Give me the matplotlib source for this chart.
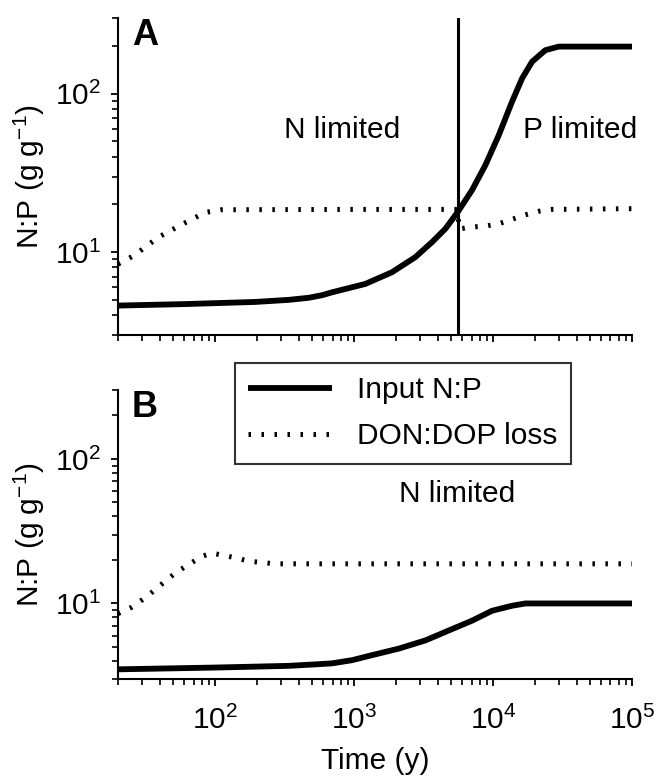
import numpy as np
import matplotlib
matplotlib.use("Agg")
import matplotlib.pyplot as plt
from matplotlib.ticker import LogLocator, NullFormatter

plt.rcParams['font.family'] = ['Liberation Sans', 'DejaVu Sans']
plt.rcParams['mathtext.fontset'] = 'custom'
plt.rcParams['mathtext.rm'] = 'Liberation Sans'
plt.rcParams['mathtext.it'] = 'Liberation Sans:italic'
plt.rcParams['mathtext.bf'] = 'Liberation Sans:bold'

# Painel A - entrada N:P e perda DON:DOP
tA_input = [20, 60, 195, 340, 470, 590, 695, 1205, 1876, 2760, 3640, 4540, 5570,
            7060, 8810, 11000, 13700, 16200, 19100, 23800, 29700, 100000]
A_input = [4.6, 4.7, 4.85, 5.0, 5.15, 5.35, 5.58, 6.3, 7.47, 9.3, 11.57, 14.04, 17.9,
           24.6, 35.4, 54.7, 89, 125, 159, 188, 198, 198]
tA_don = [20, 26, 39, 58, 85, 110, 1000, 5550, 5700, 7060, 8800, 11000, 13700,
          17100, 21300, 26500, 100000]
A_don = [8.4, 9.5, 12.4, 15.0, 17.8, 18.5, 18.6, 18.6, 14.0, 14.4, 14.6, 15.1, 16.1,
         17.2, 18.1, 18.6, 18.8]
t_switch = 5570   # passagem de limitacao por N para P

# Painel B
tB_input = [20, 100, 340, 560, 695, 968, 1350, 2100, 3260, 4800, 7060, 9840, 13700,
            17100, 100000]
B_input = [3.5, 3.6, 3.7, 3.8, 3.85, 4.05, 4.39, 4.87, 5.55, 6.5, 7.6, 8.9, 9.64, 10, 10]
tB_don = [20, 25, 31.6, 44, 52, 64.5, 80.6, 95, 140, 175, 270, 100000]
B_don = [8.5, 9.4, 11.0, 14.3, 16.3, 18.6, 21.2, 22.3, 20.7, 19.6, 18.8, 18.8]

FS = 21.5
W, H = 658, 782
fig = plt.figure(figsize=(W / 100, H / 100), dpi=100)
ax1 = fig.add_axes([118 / W, 1 - 335 / H, 514 / W, 317 / H])
ax2 = fig.add_axes([118 / W, 1 - 679 / H, 514 / W, 289 / H])

dot_style = (0, (0.5, 2.1))

for ax in (ax1, ax2):
    ax.set_xscale('log')
    ax.set_yscale('log')
    ax.set_xlim(20, 1e5)
    ax.set_ylim(3, 300)
    ax.spines['top'].set_visible(False)
    ax.spines['right'].set_visible(False)
    ax.spines['left'].set_linewidth(1.5)
    ax.spines['bottom'].set_linewidth(1.5)
    ax.xaxis.set_major_locator(LogLocator(base=10, numticks=10))
    ax.xaxis.set_minor_locator(LogLocator(base=10, subs=np.arange(2, 10), numticks=20))
    ax.yaxis.set_major_locator(LogLocator(base=10, numticks=10))
    ax.yaxis.set_minor_locator(LogLocator(base=10, subs=np.arange(2, 10), numticks=20))
    ax.xaxis.set_minor_formatter(NullFormatter())
    ax.yaxis.set_minor_formatter(NullFormatter())
    ax.tick_params(which='major', direction='out', length=5, width=1.3, labelsize=FS)
    ax.tick_params(axis='y', which='major', pad=7)
    ax.tick_params(axis='x', which='major', pad=14)
    ax.tick_params(which='minor', direction='out', length=4, width=1.2)
    ax.set_ylabel('N:P (g g$^{-1}$)', fontsize=FS, labelpad=6)

ax1.plot(tA_input, A_input, color='black', lw=4.2, solid_capstyle='butt')
ax1.plot(tA_don, A_don, color='black', lw=3.6, linestyle=dot_style, dash_capstyle='butt')
ax1.axvline(t_switch, color='black', lw=2.2)
ax1.tick_params(axis='x', labelbottom=False)
ax1.text(0.027, 1.0, 'A', transform=ax1.transAxes, fontsize=26, fontweight='bold',
         va='top', ha='left')
ax1.text(820, 59, 'N limited', fontsize=FS, ha='center', va='center')
ax1.text(42300, 59, 'P limited', fontsize=FS, ha='center', va='center')

ax2.plot(tB_input, B_input, color='black', lw=4.2, solid_capstyle='butt', label='Input N:P')
ax2.plot(tB_don, B_don, color='black', lw=3.6, linestyle=dot_style, dash_capstyle='butt',
         label='DON:DOP loss')
ax2.text(0.027, 1.0, 'B', transform=ax2.transAxes, fontsize=26, fontweight='bold',
         va='top', ha='left')
ax2.text(5500, 57.5, 'N limited', fontsize=FS, ha='center', va='center')
ax2.set_xlabel('Time (y)', fontsize=FS, labelpad=9)

leg = ax2.legend(loc='upper left', bbox_to_anchor=(235 / W, 1 - 363 / H),
                 bbox_transform=fig.transFigure, fontsize=FS, frameon=True,
                 fancybox=False, handlelength=2.8, handletextpad=0.85,
                 borderpad=0.45, labelspacing=0.6, borderaxespad=0)
leg.get_frame().set_edgecolor('black')
leg.get_frame().set_linewidth(1.5)
leg.set_zorder(10)

fig.savefig('out.png', dpi=100)
